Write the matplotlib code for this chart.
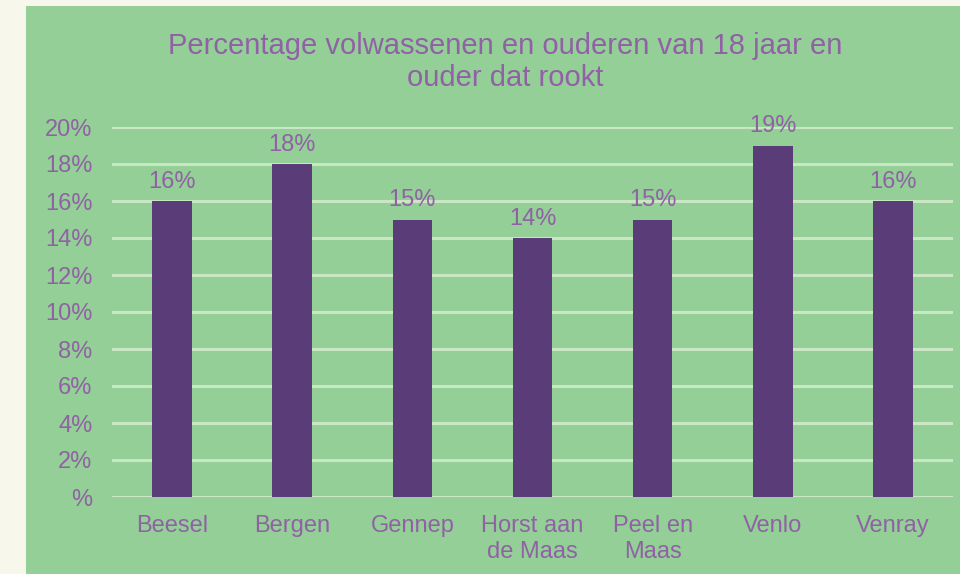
import matplotlib
matplotlib.use("Agg")
import matplotlib.pyplot as plt
from matplotlib.patches import Rectangle

categories = ["Beesel", "Bergen", "Gennep", "Horst aan\nde Maas", "Peel en\nMaas", "Venlo", "Venray"]
values = [16, 18, 15, 14, 15, 19, 16]
yticks = [0, 2, 4, 6, 8, 10, 12, 14, 16, 18, 20]
ytick_labels = ["%", "2%", "4%", "6%", "8%", "10%", "12%", "14%", "16%", "18%", "20%"]
title = "Percentage volwassenen en ouderen van 18 jaar en\nouder dat rookt"

bg_outer = "#f7f7ec"
bg_green = "#93cf97"
bar_color = "#5a3d78"
text_color = "#9161a5"
grid_color = "#c9e7c3"

plt.rcParams['font.family'] = ['Liberation Sans', 'DejaVu Sans']

fig = plt.figure(figsize=(9.6, 5.74), dpi=100, facecolor=bg_outer)
fig.patches.append(Rectangle((26/960, 0), 1, 1 - 6/574, transform=fig.transFigure,
                             facecolor=bg_green, edgecolor="none", zorder=-10))

ax = fig.add_axes([112/960, 1 - 497/574, (953 - 112)/960, (497 - 127)/574])
ax.set_facecolor("none")
x = list(range(len(categories)))
bars = ax.bar(x, values, width=0.33, color=bar_color, zorder=3)
ax.set_xlim(-0.5, len(categories) - 0.5)
ax.set_ylim(0, 20)
ax.set_yticks(yticks)
ax.set_yticklabels(ytick_labels)
ax.set_xticks(x)
ax.set_xticklabels(categories, linespacing=1.25)
for s in ax.spines.values():
    s.set_visible(False)
ax.tick_params(axis="both", length=0, colors=text_color, labelsize=17)
ax.tick_params(axis="y", pad=14)
ax.tick_params(axis="x", pad=13)
ax.grid(axis="y", color=grid_color, linewidth=2.2, zorder=1)
ax.set_axisbelow(True)
for xi, v in zip(x, values):
    ax.annotate(f"{v}%", (xi, v), xytext=(0, 6), textcoords="offset points",
                ha="center", va="bottom", color=text_color, fontsize=17)

fig.text(505/960, 1 - 62/574, title, ha="center", va="center", color=text_color,
         fontsize=21, linespacing=1.2)

fig.savefig("out.png", dpi=100, facecolor=fig.get_facecolor())
